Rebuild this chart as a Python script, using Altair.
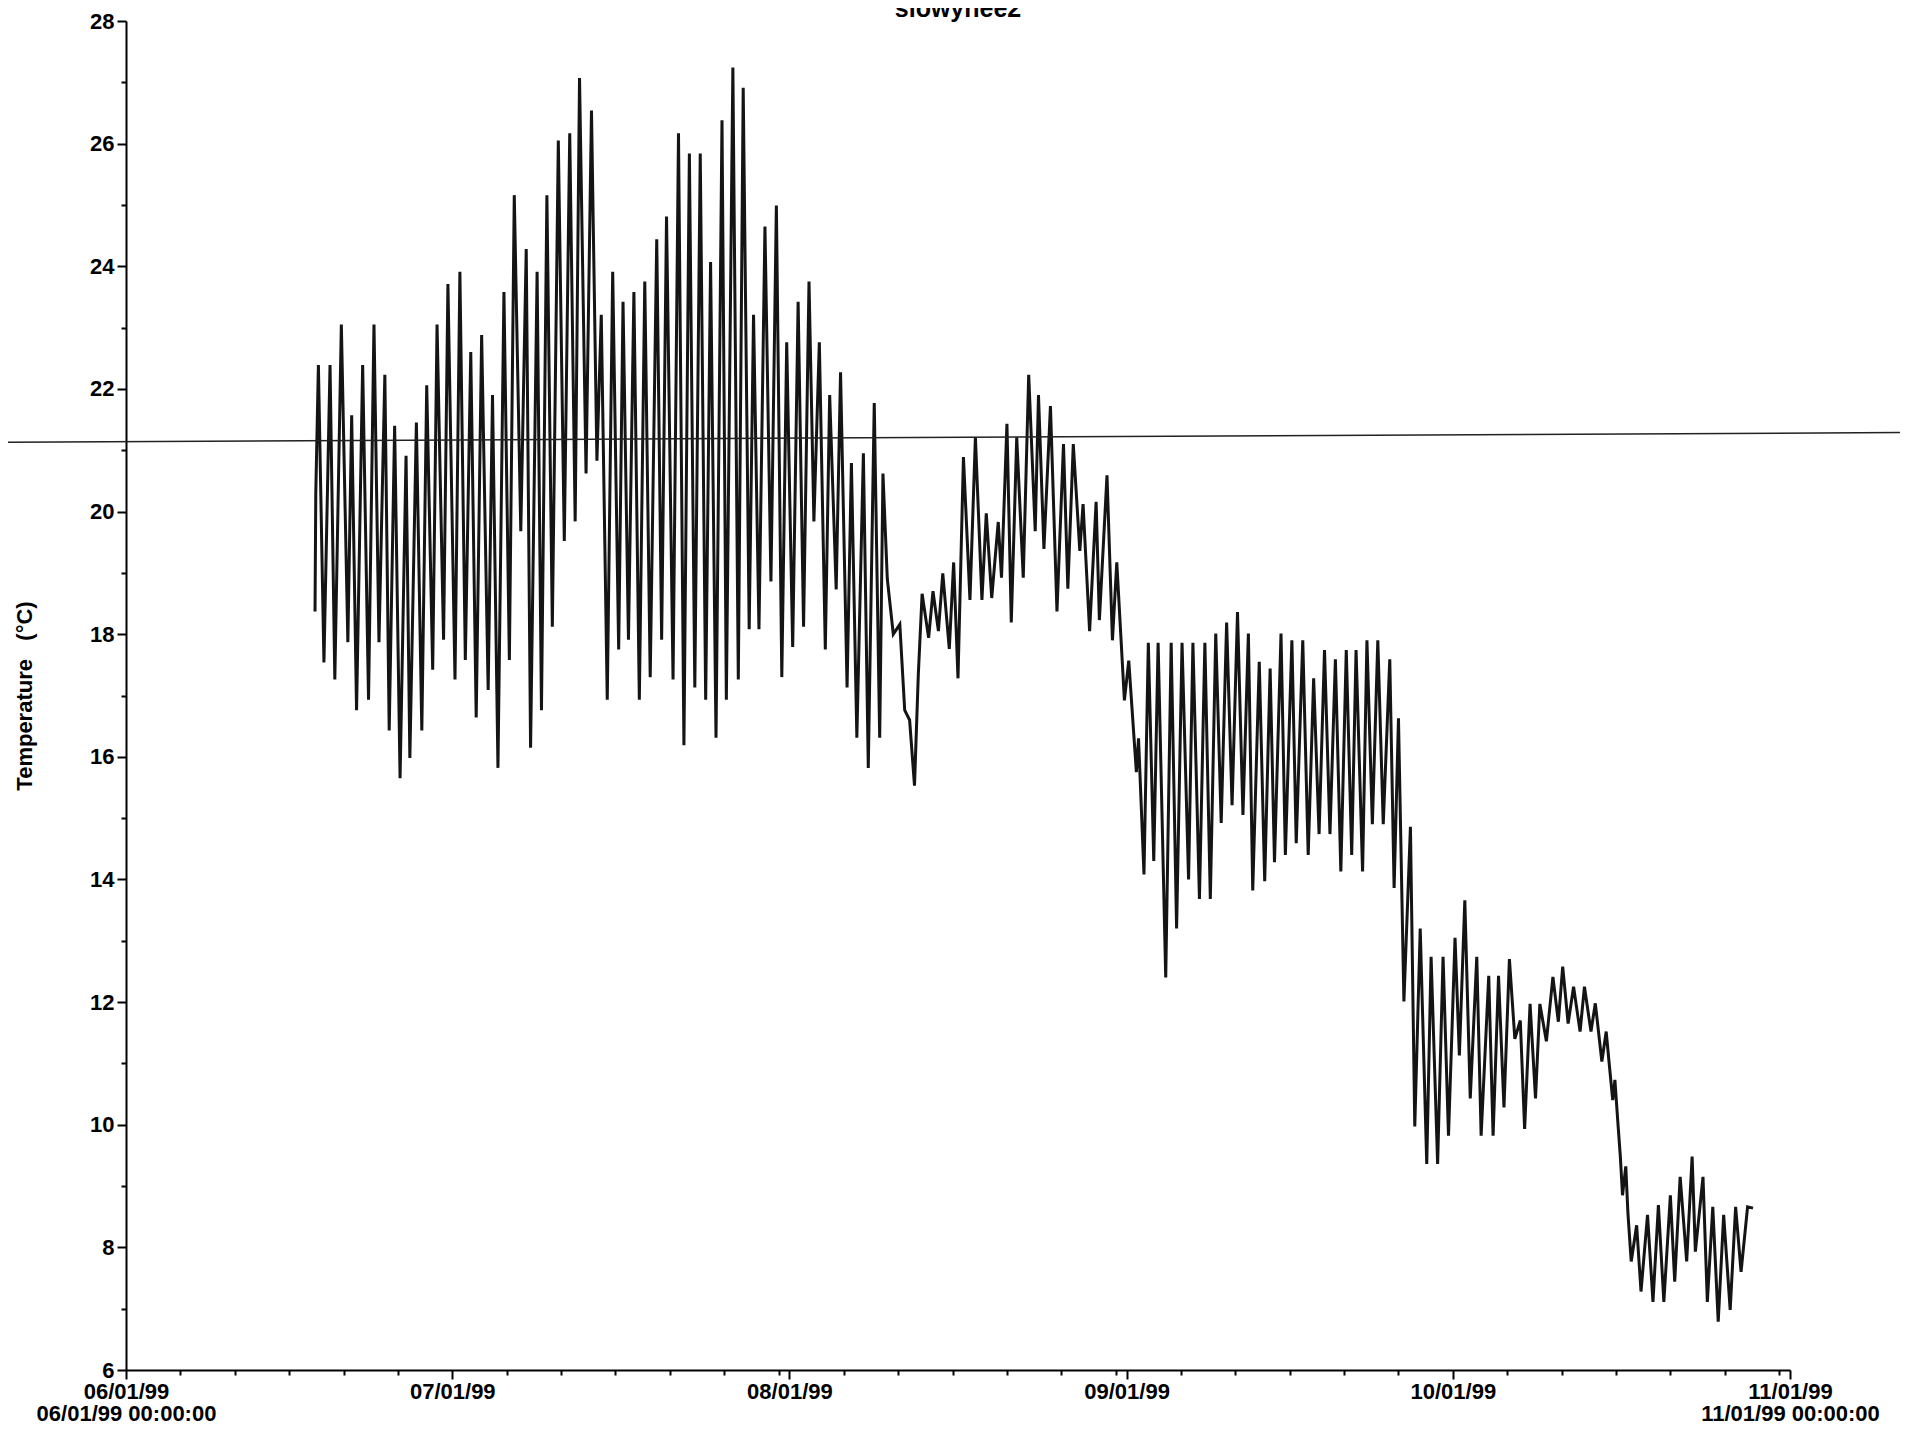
import altair as alt
import pandas as pd
from datetime import datetime, timedelta, timezone

FONT = "Liberation Sans"
TITLE = "slowyhee2"
NB = "\u00a0"
Y_TITLE = "Temperature" + NB * 3 + "(°C)"

# time as days since 06/01/99 00:00, temperatures in °C (daily highs and lows)
DAYS = [
    17.38, 17.45, 17.69, 18.2, 18.76, 19.2, 19.8, 20.4, 20.75, 21.2, 21.76, 22.3, 22.8, 23.26,
    23.8, 24.2, 24.7, 25.2, 25.75, 26.1, 26.7, 27.2, 27.65, 28.2, 28.6, 29.2, 29.6, 30.25,
    30.7, 31.2, 31.7, 32.2, 32.7, 33.3, 33.7, 34.2, 34.75, 35.25, 35.7, 36.3, 36.8, 37.2,
    37.8, 38.2, 38.7, 39.2, 39.75, 40.3, 40.8, 41.3, 41.7, 42.3, 42.8, 43.3, 43.7, 44.25,
    44.75, 45.3, 45.7, 46.2, 46.7, 47.2, 47.7, 48.2, 48.8, 49.25, 49.7, 50.3, 50.8, 51.3,
    51.8, 52.3, 52.8, 53.3, 53.75, 54.25, 54.8, 55.2, 55.8, 56.3, 56.75, 57.3, 57.7, 58.2,
    58.75, 59.3, 59.8, 60.3, 60.75, 61.3, 61.8, 62.3, 62.8, 63.25, 63.75, 64.3, 64.7, 65.3,
    65.7, 66.3, 66.7, 67.2, 67.8, 68.25, 68.8, 69.3, 69.6, 70.0, 70.55, 71.15, 71.6, 72.05,
    72.5, 72.85, 73.2, 73.8, 74.2, 74.7, 75.1, 75.7, 76.1, 76.5, 77.0, 77.6, 78.1, 78.7,
    79.1, 79.6, 80.2, 80.5, 81.0, 81.4, 81.9, 82.5, 83.0, 83.6, 83.9, 84.4, 85.0, 85.6,
    86.2, 86.6, 87.1, 87.7, 88.0, 88.6, 89.2, 89.5, 90.2, 90.7, 91.1, 91.8, 92.2, 92.9,
    93.1, 93.6, 94.0, 94.5, 94.9, 95.6, 96.1, 96.6, 97.1, 97.7, 98.1, 98.7, 99.2, 99.7,
    100.2, 100.7, 101.2, 101.7, 102.2, 102.7, 103.2, 103.6, 104.2, 104.7, 105.2, 105.6, 106.2, 106.6,
    107.2, 107.6, 108.2, 108.7, 109.2, 109.7, 110.2, 110.7, 111.2, 111.7, 112.2, 112.7, 113.1, 113.7,
    114.1, 114.6, 115.1, 115.6, 116.2, 116.6, 117.0, 117.5, 118.1, 118.5, 119.0, 119.6, 120.0, 120.6,
    121.1, 121.6, 122.2, 122.6, 123.1, 123.6, 124.2, 124.6, 125.3, 125.7, 126.2, 126.7, 127.2, 127.7,
    128.2, 128.6, 129.1, 129.6, 130.0, 130.6, 131.2, 131.7, 132.1, 132.6, 133.1, 133.7, 134.1, 134.7,
    135.1, 135.7, 136.1, 136.4, 136.7, 136.9, 137.2, 137.4, 137.6, 137.9, 138.1, 138.4, 138.9, 139.3,
    139.9, 140.4, 140.9, 141.4, 142.0, 142.4, 142.9, 143.5, 144.0, 144.3, 145.0, 145.4, 145.9, 146.4,
    146.9, 147.5, 148.0, 148.5, 149.1, 149.6,
]
TEMPS = [
    18.37, 20.3, 22.39, 17.54, 22.39, 17.26, 23.05, 17.87, 21.57, 16.76, 22.39, 16.93, 23.05, 17.87,
    22.23, 16.43, 21.40, 15.65, 20.91, 15.98, 21.45, 16.43, 22.06, 17.42, 23.05, 17.91, 23.71, 17.26,
    23.91, 17.58, 22.60, 16.64, 22.88, 17.09, 21.90, 15.82, 23.58, 17.58, 25.16, 19.68, 24.28, 16.15,
    23.91, 16.76, 25.16, 18.12, 26.05, 19.52, 26.17, 19.84, 27.07, 20.62, 26.54, 20.83, 23.21, 16.93,
    23.91, 17.75, 23.42, 17.91, 23.58, 16.93, 23.75, 17.30, 24.44, 17.91, 24.81, 17.26, 26.17, 16.19,
    25.84, 17.13, 25.84, 16.93, 24.07, 16.31, 26.38, 16.93, 27.24, 17.26, 26.91, 18.08, 23.21, 18.08,
    24.65, 18.86, 24.99, 17.30, 22.76, 17.79, 23.42, 18.12, 23.75, 19.84, 22.76, 17.75, 21.90, 18.73,
    22.27, 17.13, 20.79, 16.31, 20.95, 15.82, 21.77, 16.31, 20.62, 18.9, 18.0, 18.16, 16.76, 16.6,
    15.53, 17.34, 18.66, 17.94, 18.70, 18.05, 18.99, 17.76, 19.17, 17.28, 20.89, 18.56, 21.21, 18.56,
    19.97, 18.59, 19.83, 18.92, 21.43, 18.19, 21.21, 18.92, 22.23, 19.68, 21.90, 19.39, 21.72, 18.37,
    21.10, 18.74, 21.10, 19.36, 20.12, 18.05, 20.16, 18.23, 20.59, 17.90, 19.17, 16.92, 17.57, 15.75,
    16.30, 14.08, 17.86, 14.30, 17.86, 12.40, 17.86, 13.20, 17.86, 14.00, 17.86, 13.68, 17.86, 13.68,
    18.01, 14.92, 18.19, 15.21, 18.36, 15.05, 18.01, 13.82, 17.55, 13.97, 17.44, 14.28, 18.01, 14.40,
    17.90, 14.59, 17.90, 14.40, 17.28, 14.74, 17.74, 14.74, 17.59, 14.13, 17.74, 14.40, 17.74, 14.13,
    17.90, 14.90, 17.90, 14.90, 17.59, 13.86, 16.63, 12.01, 14.86, 9.97, 13.20, 9.36, 12.74, 9.36,
    12.74, 9.82, 13.05, 11.13, 13.66, 10.43, 12.74, 9.82, 12.43, 9.82, 12.43, 10.28, 12.70, 11.40,
    11.70, 9.93, 11.97, 10.43, 11.97, 11.36, 12.41, 11.68, 12.58, 11.65, 12.25, 11.52, 12.25, 11.52,
    11.98, 11.03, 11.52, 10.95, 10.40, 10.73, 9.97, 9.48, 8.85, 9.32, 8.55, 7.77, 8.36, 7.28,
    8.53, 7.11, 8.69, 7.11, 8.85, 7.44, 9.15, 7.77, 9.48, 7.93, 9.15, 7.11, 8.66, 6.79,
    8.53, 6.98, 8.66, 7.60, 8.66, 8.64,
]

# horizontal reference line (runs across the whole sheet)
REF_DAYS = [-11.6, 165.0]
REF_TEMPS = [21.13, 21.29]

Y_TICKS = list(range(6, 29))
MONTHS = [6, 7, 8, 9, 10]
MINOR_DAYS = [6, 11, 16, 21, 26, 31]

BASE = datetime(1999, 6, 1, tzinfo=timezone.utc)


def iso(d):
    return (BASE + timedelta(days=d)).strftime("%Y-%m-%dT%H:%M:%SZ")


def ms(dt):
    return int(dt.timestamp() * 1000)


x_ticks = []
for m in MONTHS:
    for d in [1] + MINOR_DAYS:
        try:
            x_ticks.append(ms(datetime(1999, m, d, tzinfo=timezone.utc)))
        except ValueError:
            pass
x_ticks.append(ms(datetime(1999, 11, 1, tzinfo=timezone.utc)))

df = pd.DataFrame({"t": [iso(d) for d in DAYS], "v": TEMPS})
ref_df = pd.DataFrame({"t": [iso(d) for d in REF_DAYS], "v": REF_TEMPS})

x_scale = alt.Scale(
    type="utc",
    domain=[alt.DateTime(year=1999, month=6, date=1, utc=True),
            alt.DateTime(year=1999, month=11, date=1, utc=True)],
    nice=False,
)
y_scale = alt.Scale(domain=[6, 28], nice=False, zero=False)

x_label_expr = (
    "utcdate(datum.value) == 1 ? "
    "((utcmonth(datum.value) == 5 || utcmonth(datum.value) == 10) ? "
    "[utcFormat(datum.value, '%m/%d/%y'), utcFormat(datum.value, '%m/%d/%y %H:%M:%S')] : "
    "utcFormat(datum.value, '%m/%d/%y')) : ''"
)

x_axis = alt.Axis(
    values=x_ticks,
    labelExpr=x_label_expr,
    tickSize={"condition": {"test": "utcdate(datum.value) == 1", "value": 9}, "value": 5},
    tickWidth=2, tickColor="black",
    domainColor="black", domainWidth=2,
    labelFont=FONT, labelFontSize=22, labelFontWeight="bold", labelColor="black",
    labelLineHeight=22, labelPadding=2, labelAngle=0, labelAlign="center", labelBaseline="top",
    labelFlush=False, labelOverlap=False, grid=False, title=None,
)

y_axis = alt.Axis(
    values=Y_TICKS,
    labelExpr="datum.value % 2 == 0 ? datum.label : ''",
    tickSize={"condition": {"test": "datum.value % 2 == 0", "value": 9}, "value": 5},
    tickWidth=2, tickColor="black",
    domainColor="black", domainWidth=2,
    labelFont=FONT, labelFontSize=22, labelFontWeight="bold", labelColor="black",
    labelPadding=3, labelOverlap=False, labelFlush=False, grid=False,
    title=Y_TITLE, titleFont=FONT, titleFontSize=22, titleFontWeight="bold", titleColor="black",
    titleX=-95, titleY=674.5, titleAlign="center", titleBaseline="alphabetic",
)

series = alt.Chart(df).mark_line(color="#141414", strokeWidth=3).encode(
    x=alt.X("t:T", scale=x_scale, axis=x_axis),
    y=alt.Y("v:Q", scale=y_scale, axis=y_axis),
)

ref = alt.Chart(ref_df).mark_line(color="#222222", strokeWidth=1.5, clip=False).encode(
    x=alt.X("t:T", scale=x_scale, axis=x_axis),
    y=alt.Y("v:Q", scale=y_scale, axis=y_axis),
)

chart = alt.layer(series, ref).properties(
    width=1664,
    height=1349,
    title=alt.TitleParams(
        text=TITLE, anchor="middle", font=FONT, fontSize=25, fontWeight="bold",
        color="black", offset=0, baseline="top", dy=12,
    ),
    autosize=alt.AutoSizeParams(type="none"),
    padding={"left": 118, "top": 13, "right": 110, "bottom": 54},
    background="white",
).configure_view(strokeWidth=0)

chart.save("out.html", embed_options={"renderer": "svg", "actions": False})
